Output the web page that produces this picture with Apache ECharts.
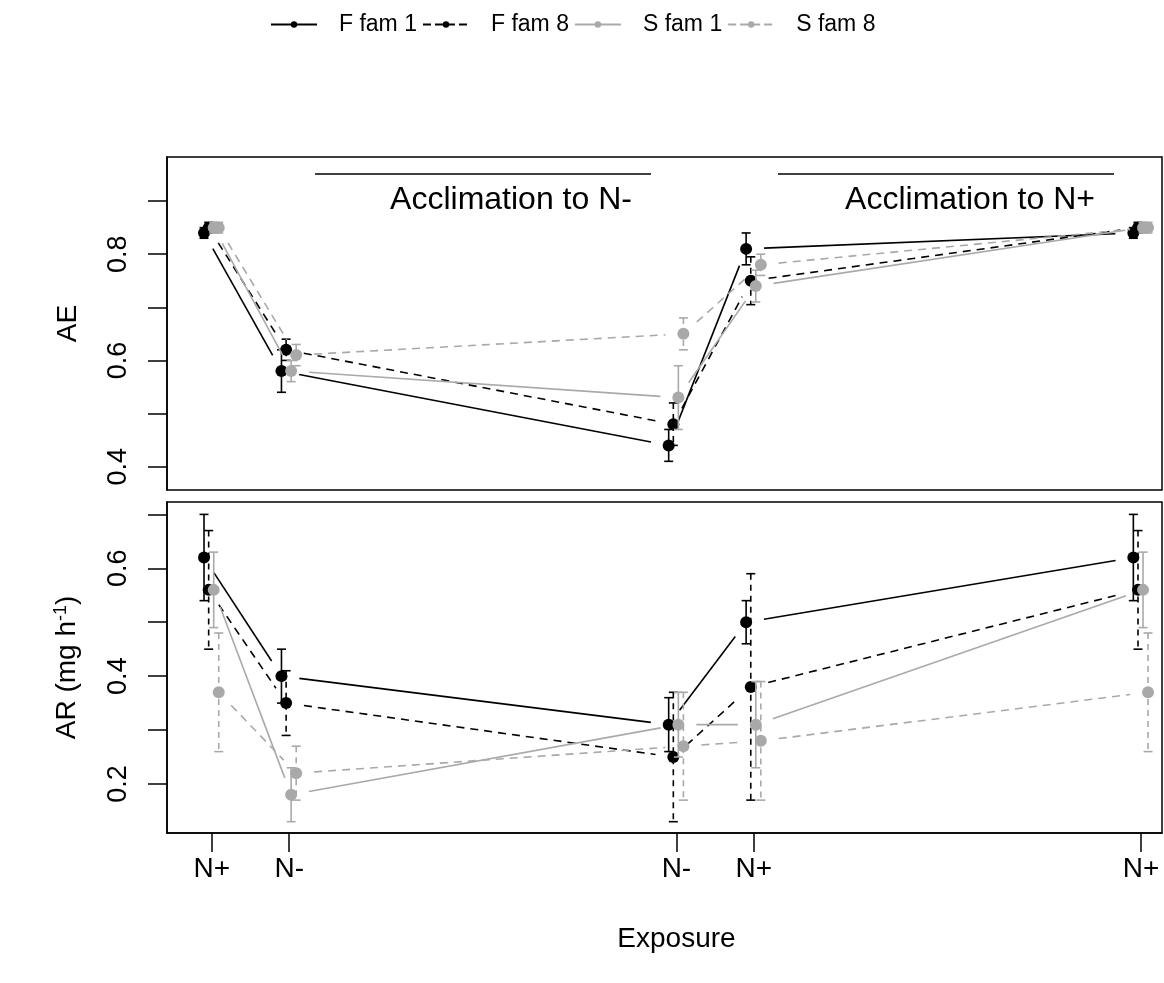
<!DOCTYPE html>
<html>
<head>
<meta charset="utf-8">
<script src="https://cdn.jsdelivr.net/npm/echarts@6/dist/echarts.min.js"></script>
<style>
html,body{margin:0;padding:0;background:#fff;}
#chart{width:1164px;height:983px;}
</style>
</head>
<body>
<div id="chart"></div>
<script>
// ---------------- data ----------------
const days = [0, 1, 6, 7, 12];
const dayLabels = ['N+', 'N-', 'N-', 'N+', 'N+'];
const seriesNames = ['F fam 1', 'F fam 8', 'S fam 1', 'S fam 8'];
const dodge = [-0.1, -0.04, 0.025, 0.09];

// AE (top panel)
const aeF1 = [0.84, 0.58, 0.44, 0.81, 0.84];
const aeF8 = [0.85, 0.62, 0.48, 0.75, 0.85];
const aeS1 = [0.85, 0.58, 0.53, 0.74, 0.85];
const aeS8 = [0.85, 0.61, 0.65, 0.78, 0.85];
const aeF1Err = [0.01, 0.04, 0.03, 0.03, 0.01];
const aeF8Err = [0.01, 0.02, 0.04, 0.045, 0.01];
const aeS1Err = [0.01, 0.02, 0.06, 0.03, 0.01];
const aeS8Err = [0.01, 0.02, 0.03, 0.02, 0.01];

// AR (bottom panel)
const arF1 = [0.62, 0.40, 0.31, 0.50, 0.62];
const arF8 = [0.56, 0.35, 0.25, 0.38, 0.56];
const arS1 = [0.56, 0.18, 0.31, 0.31, 0.56];
const arS8 = [0.37, 0.22, 0.27, 0.28, 0.37];
const arF1Err = [0.08, 0.05, 0.05, 0.04, 0.08];
const arF8Err = [0.11, 0.06, 0.12, 0.21, 0.11];
const arS1Err = [0.07, 0.05, 0.06, 0.08, 0.07];
const arS8Err = [0.11, 0.05, 0.10, 0.11, 0.11];

const aeTicks = [0.4, 0.5, 0.6, 0.7, 0.8, 0.9];
const aeTickLabels = [0.4, 0.6, 0.8];
const arTicks = [0.2, 0.3, 0.4, 0.5, 0.6, 0.7];
const arTickLabels = [0.2, 0.4, 0.6];

// ---------------- styling ----------------
const FONT = "'Liberation Sans', Arial, sans-serif";
const colors = ['#000000', '#000000', '#a9a9a9', '#a9a9a9'];
const dashed = [false, true, false, true];
const DASH = [8, 6];
const LW = 1.6;
const GAP = 18;

const aeVals = [aeF1, aeF8, aeS1, aeS8];
const aeErrs = [aeF1Err, aeF8Err, aeS1Err, aeS8Err];
const arVals = [arF1, arF8, arS1, arS8];
const arErrs = [arF1Err, arF8Err, arS1Err, arS8Err];

function segRender(color, isDash) {
  return function (params, api) {
    const p0 = api.coord([api.value(0), api.value(1)]);
    const p1 = api.coord([api.value(2), api.value(3)]);
    const dx = p1[0] - p0[0], dy = p1[1] - p0[1];
    const L = Math.hypot(dx, dy);
    if (L <= 2 * GAP) return null;
    const ux = dx / L, uy = dy / L;
    return {
      type: 'line',
      shape: { x1: p0[0] + ux * GAP, y1: p0[1] + uy * GAP, x2: p1[0] - ux * GAP, y2: p1[1] - uy * GAP },
      style: { stroke: color, lineWidth: LW, lineDash: isDash ? DASH : null, fill: null }
    };
  };
}

function errRender(color, isDash) {
  return function (params, api) {
    const x = api.value(0), y = api.value(1), e = api.value(2);
    const top = api.coord([x, y + e]);
    const bot = api.coord([x, y - e]);
    const cw = 4.5;
    return {
      type: 'group',
      children: [
        { type: 'line', shape: { x1: top[0], y1: top[1], x2: bot[0], y2: bot[1] },
          style: { stroke: color, lineWidth: LW, lineDash: isDash ? [6, 5] : null } },
        { type: 'line', shape: { x1: top[0] - cw, y1: top[1], x2: top[0] + cw, y2: top[1] },
          style: { stroke: color, lineWidth: LW } },
        { type: 'line', shape: { x1: bot[0] - cw, y1: bot[1], x2: bot[0] + cw, y2: bot[1] },
          style: { stroke: color, lineWidth: LW } }
      ]
    };
  };
}

const series = [];
// legend-only series
seriesNames.forEach(function (name, s) {
  series.push({
    name: name, type: 'line', xAxisIndex: 0, yAxisIndex: 0, data: [],
    symbol: 'circle', symbolSize: 8,
    itemStyle: { color: colors[s] },
    lineStyle: { color: colors[s], width: LW, type: dashed[s] ? 'dashed' : 'solid' }
  });
});

function addPanel(panel, vals, errs) {
  vals.forEach(function (v, s) {
    const xs = days.map(function (d) { return d + dodge[s]; });
    const segs = [];
    for (let i = 0; i < xs.length - 1; i++) segs.push([xs[i], v[i], xs[i + 1], v[i + 1]]);
    series.push({
      name: seriesNames[s] + ' line ' + panel, type: 'custom',
      xAxisIndex: panel, yAxisIndex: panel, z: 2 + s * 3,
      renderItem: segRender(colors[s], dashed[s]),
      encode: { x: [0, 2], y: [1, 3] }, data: segs, silent: true
    });
    series.push({
      name: seriesNames[s] + ' err ' + panel, type: 'custom',
      xAxisIndex: panel, yAxisIndex: panel, z: 3 + s * 3,
      renderItem: errRender(colors[s], dashed[s]),
      encode: { x: 0, y: 1 },
      data: xs.map(function (x, i) { return [x, v[i], errs[s][i]]; }), silent: true
    });
    series.push({
      name: seriesNames[s] + ' pts ' + panel, type: 'scatter',
      xAxisIndex: panel, yAxisIndex: panel, z: 4 + s * 3,
      symbol: 'circle', symbolSize: 12,
      itemStyle: { color: colors[s], opacity: 1 },
      data: xs.map(function (x, i) { return [x, v[i]]; }), silent: true
    });
  });
}
addPanel(0, aeVals, aeErrs);
addPanel(1, arVals, arErrs);

const XMIN = -0.578, XMAX = 12.27;
const gridLeft = 167, gridWidth = 995;

function yAxis(gridIndex, min, max, ticks, labels, name, rich) {
  return {
    type: 'value', gridIndex: gridIndex, min: min, max: max,
    splitLine: { show: false },
    axisLine: { show: true, onZero: false, lineStyle: { color: '#000', width: 1.5 } },
    axisTick: { show: true, inside: false, length: 19, customValues: ticks,
      lineStyle: { color: '#000', width: 1.5 } },
    axisLabel: { show: true, customValues: labels, rotate: 90, margin: 35,
      color: '#000', fontSize: 27, fontFamily: FONT,
      formatter: function (v) { return v.toFixed(1); } },
    name: name, nameLocation: 'middle', nameRotate: 90, nameGap: 85,
    nameTextStyle: { color: '#000', fontSize: 28, fontFamily: FONT, rich: rich }
  };
}

const option = {
  animation: false,
  backgroundColor: '#ffffff',
  legend: {
    data: seriesNames, top: 8, left: 265,
    itemWidth: 46, itemHeight: 8, itemGap: 5,
    textStyle: { color: '#000', fontSize: 23, fontFamily: FONT, width: 88, padding: [0, 0, 0, 17] },
    selectedMode: false
  },
  grid: [
    { left: gridLeft, width: gridWidth, top: 157, height: 333, show: true,
      borderColor: '#000', borderWidth: 1.5, backgroundColor: 'transparent' },
    { left: gridLeft, width: gridWidth, top: 502, height: 331, show: true,
      borderColor: '#000', borderWidth: 1.5, backgroundColor: 'transparent' }
  ],
  xAxis: [
    { type: 'value', gridIndex: 0, min: XMIN, max: XMAX,
      axisLine: { show: false }, axisTick: { show: false }, axisLabel: { show: false },
      splitLine: { show: false } },
    { type: 'value', gridIndex: 1, min: XMIN, max: XMAX,
      splitLine: { show: false },
      axisLine: { show: true, onZero: false, lineStyle: { color: '#000', width: 1.5 } },
      axisTick: { show: true, length: 19, customValues: days, lineStyle: { color: '#000', width: 1.5 } },
      axisLabel: { show: true, customValues: days, margin: 22, color: '#000', fontSize: 28, fontFamily: FONT,
        formatter: function (v) { const i = days.indexOf(v); return i >= 0 ? dayLabels[i] : ''; } },
      name: 'Exposure', nameLocation: 'middle', nameGap: 92,
      nameTextStyle: { color: '#000', fontSize: 28, fontFamily: FONT, padding: [0, 0, 0, 24] } }
  ],
  yAxis: [
    yAxis(0, 0.356, 0.983, aeTicks, aeTickLabels, 'AE'),
    yAxis(1, 0.109, 0.723, arTicks, arTickLabels, 'AR (mg h{sup|-1})',
      { sup: { fontSize: 18, fontFamily: FONT, color: '#000', verticalAlign: 'top', padding: [0, 0, 12, 0] } })
  ],
  graphic: [
    { type: 'line', shape: { x1: 315, y1: 174, x2: 651, y2: 174 }, style: { stroke: '#000', lineWidth: 1.5 } },
    { type: 'line', shape: { x1: 778, y1: 174, x2: 1114, y2: 174 }, style: { stroke: '#000', lineWidth: 1.5 } },
    { type: 'text', position: [511, 200], style: { text: 'Acclimation to N-', x: 0, y: 0, align: 'center', verticalAlign: 'middle',
      fontSize: 32, fontFamily: FONT, fill: '#000' } },
    { type: 'text', position: [970, 200], style: { text: 'Acclimation to N+', x: 0, y: 0, align: 'center', verticalAlign: 'middle',
      fontSize: 32, fontFamily: FONT, fill: '#000' } }
  ],
  series: series
};

const chart = echarts.init(document.getElementById('chart'), null, { renderer: 'canvas' });
chart.setOption(option);
</script>
</body>
</html>
